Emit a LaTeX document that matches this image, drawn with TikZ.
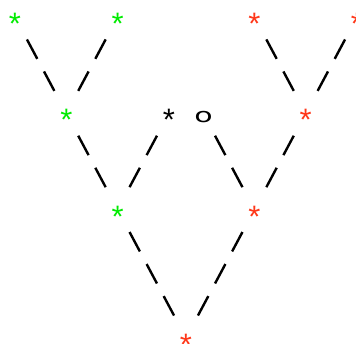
\documentclass[tikz,border=0pt]{standalone}
\usepackage{fontspec}
\setmainfont{Liberation Sans}
\newfontfamily\dejavu{DejaVu Sans}
\definecolor{sgreen}{RGB}{0,235,0}
\definecolor{sred}{RGB}{255,55,25}
\begin{document}
\begin{tikzpicture}[x=1pt,y=-1pt,
  star/.style={font=\fontsize{31}{31}\selectfont, inner sep=0pt, anchor=base, yshift=-17.4pt},
  letter/.style={font=\dejavu\fontsize{20}{20}\selectfont, inner sep=0pt},
  link/.style={line width=2.4pt, shorten >=25.4pt, shorten <=25.4pt, dash pattern=on 22pt off 14.3pt}]
\useasboundingbox (0,0) rectangle (356,343);
% grid: x = 15 + 17.1 c, y = 17 + 32.1 r
\coordinate (g1) at (15,17);
\coordinate (g2) at (117.6,17);
\coordinate (g3) at (66.3,113.3);
\coordinate (g4) at (117.6,209.6);
\coordinate (b1) at (168.9,113.3);
\coordinate (o1) at (203.1,113.3);
\coordinate (r1) at (254.4,17);
\coordinate (r2) at (357,17);
\coordinate (r3) at (305.7,113.3);
\coordinate (r4) at (254.4,209.6);
\coordinate (r5) at (186,338);
\foreach \n in {g1,g2,g3,g4}{\node[star,text=sgreen] (\n t) at (\n) {*};}
\foreach \n in {r1,r2,r3,r4,r5}{\node[star,text=sred] (\n t) at (\n) {*};}
\node[star] (b1t) at (b1) {*};
\node[letter] (o1t) at (203.5,117.5) {\scalebox{1.5}[1]{o}};
\draw[link] (g1) -- (g3);
\draw[link] (g2) -- (g3);
\draw[link] (g3) -- (g4);
\draw[link] (b1) -- (g4);
\draw[link] (o1) -- (r4);
\draw[link] (r1) -- (r3);
\draw[link] (r2) -- (r3);
\draw[link] (r3) -- (r4);
\draw[link] (g4) -- (r5);
\draw[link] (r4) -- (r5);
\end{tikzpicture}
\end{document}
